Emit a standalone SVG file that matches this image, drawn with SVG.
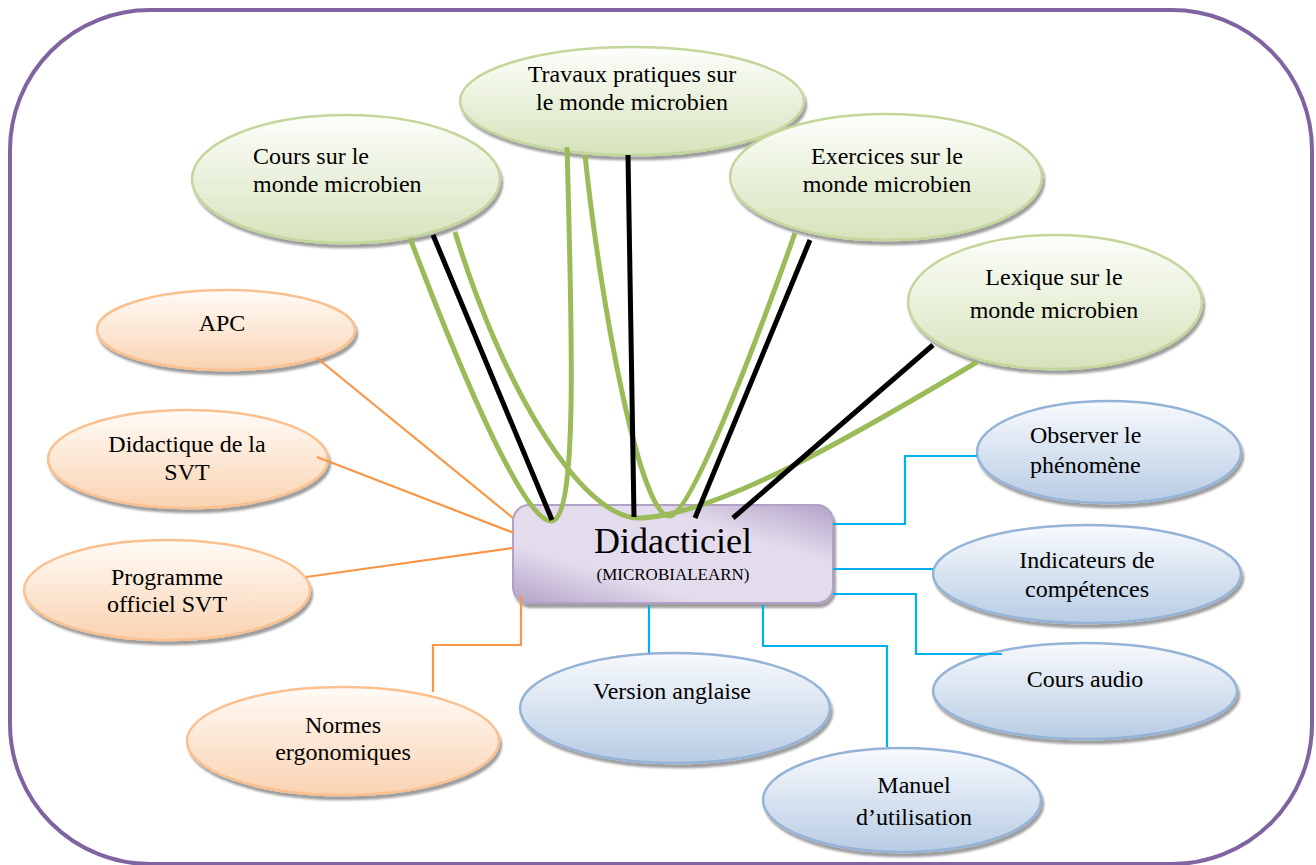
<svg xmlns="http://www.w3.org/2000/svg" width="1316" height="865" viewBox="0 0 1316 865">
  <defs>
    <linearGradient id="gGreen" x1="0" y1="0" x2="0" y2="1">
      <stop offset="0" stop-color="#fdfefb"/>
      <stop offset="1" stop-color="#d6e3bb"/>
    </linearGradient>
    <linearGradient id="gOrange" x1="0" y1="0" x2="0" y2="1">
      <stop offset="0" stop-color="#fffbf7"/>
      <stop offset="1" stop-color="#fad3b2"/>
    </linearGradient>
    <linearGradient id="gBlue" x1="0" y1="0" x2="0" y2="1">
      <stop offset="0" stop-color="#f8fafd"/>
      <stop offset="1" stop-color="#b8cce4"/>
    </linearGradient>
    <linearGradient id="gHub" x1="0" y1="1" x2="1" y2="0">
      <stop offset="0" stop-color="#b3a2c8"/>
      <stop offset="0.3" stop-color="#e3dcec"/>
      <stop offset="0.7" stop-color="#e3dcec"/>
      <stop offset="1" stop-color="#b3a2c8"/>
    </linearGradient>
    <filter id="shadow" x="-10%" y="-10%" width="120%" height="130%">
      <feDropShadow dx="2" dy="4" stdDeviation="1.2" flood-color="#000" flood-opacity="0.38"/>
    </filter>
  </defs>
  <style>
    .txt { font-family: "Liberation Serif", "Times New Roman", serif; font-size: 24px; fill: #000; }
    .mid { text-anchor: middle; }
    .green { fill: url(#gGreen); stroke: #c3d69b; stroke-width: 2.5; filter: url(#shadow); }
    .orange { fill: url(#gOrange); stroke: #fac08f; stroke-width: 2.5; filter: url(#shadow); }
    .blue { fill: url(#gBlue); stroke: #95b3d7; stroke-width: 2.5; filter: url(#shadow); }
    .lo { fill: none; stroke: #f79646; stroke-width: 2.2; }
    .lb { fill: none; stroke: #00b0f0; stroke-width: 2.2; }
    .lk { fill: none; stroke: #000; stroke-width: 5; }
    .lg { fill: none; stroke: #9bbb59; stroke-width: 5; }
  </style>

  <!-- outer frame -->
  <rect x="10" y="10" width="1302" height="854" rx="140" ry="140" fill="#fff" stroke="#8064a2" stroke-width="4"/>

  <!-- satellite nodes -->
  <g id="node-travaux">
    <ellipse class="green" cx="632" cy="101" rx="172" ry="54"/>
    <text class="txt mid" x="632" y="82">Travaux pratiques sur</text>
    <text class="txt mid" x="632" y="110">le monde microbien</text>
  </g>
  <g id="node-cours">
    <ellipse class="green" cx="346" cy="179" rx="154" ry="64"/>
    <text class="txt" x="253" y="164">Cours sur le</text>
    <text class="txt" x="253" y="192">monde microbien</text>
  </g>
  <g id="node-exercices">
    <ellipse class="green" cx="886" cy="177" rx="156" ry="63"/>
    <text class="txt mid" x="887" y="164">Exercices sur le</text>
    <text class="txt mid" x="887" y="192">monde microbien</text>
  </g>
  <g id="node-lexique">
    <ellipse class="green" cx="1055" cy="302" rx="147" ry="67"/>
    <text class="txt mid" x="1054" y="285">Lexique sur le</text>
    <text class="txt mid" x="1054" y="318">monde microbien</text>
  </g>

  <g id="node-apc">
    <ellipse class="orange" cx="226" cy="330" rx="129" ry="40"/>
    <text class="txt mid" x="222" y="331">APC</text>
  </g>
  <g id="node-didactique">
    <ellipse class="orange" cx="188" cy="459" rx="140" ry="49"/>
    <text class="txt mid" x="187" y="452">Didactique de la</text>
    <text class="txt mid" x="187" y="480">SVT</text>
  </g>
  <g id="node-programme">
    <ellipse class="orange" cx="167" cy="590" rx="143" ry="50"/>
    <text class="txt mid" x="167" y="585">Programme</text>
    <text class="txt mid" x="167" y="612">officiel SVT</text>
  </g>
  <g id="node-normes">
    <ellipse class="orange" cx="343" cy="741" rx="156" ry="54"/>
    <text class="txt mid" x="343" y="733">Normes</text>
    <text class="txt mid" x="343" y="760">ergonomiques</text>
  </g>

  <g id="node-observer">
    <ellipse class="blue" cx="1109" cy="452" rx="132" ry="51"/>
    <text class="txt" x="1030" y="443">Observer le</text>
    <text class="txt" x="1030" y="473">phénomène</text>
  </g>
  <g id="node-indicateurs">
    <ellipse class="blue" cx="1087" cy="574" rx="154" ry="49"/>
    <text class="txt mid" x="1087" y="568">Indicateurs de</text>
    <text class="txt mid" x="1087" y="597">compétences</text>
  </g>
  <g id="node-audio">
    <ellipse class="blue" cx="1085" cy="691" rx="152" ry="48"/>
    <text class="txt mid" x="1085" y="687">Cours audio</text>
  </g>
  <g id="node-anglaise">
    <ellipse class="blue" cx="675" cy="708" rx="155" ry="55"/>
    <text class="txt mid" x="672" y="699">Version anglaise</text>
  </g>
  <g id="node-manuel">
    <ellipse class="blue" cx="902" cy="800" rx="139" ry="52"/>
    <text class="txt mid" x="914" y="793">Manuel</text>
    <text class="txt mid" x="914" y="825">d’utilisation</text>
  </g>

  <!-- hub -->
  <g id="node-didacticiel">
    <rect x="513" y="505" width="320" height="98" rx="16" ry="16" fill="url(#gHub)" stroke="#b2a1c7" stroke-width="2" filter="url(#shadow)"/>
    <text class="txt mid" x="673" y="553" style="font-size:36px">Didacticiel</text>
    <text class="txt mid" x="673" y="580" style="font-size:17px">(MICROBIALEARN)</text>
  </g>

  <!-- connectors -->
  <g id="connectors">
    <line class="lo" x1="317" y1="358" x2="513" y2="518"/>
    <line class="lo" x1="317" y1="457" x2="514" y2="533"/>
    <line class="lo" x1="306" y1="577" x2="513" y2="548"/>
    <polyline class="lo" points="521,595 521,645 433,645 433,692"/>

    <polyline class="lb" points="833,524 905,524 905,456 977,456"/>
    <line class="lb" x1="833" y1="569" x2="933" y2="569"/>
    <polyline class="lb" points="833,594 916,594 916,654 1002,654"/>
    <line class="lb" x1="649" y1="605" x2="649" y2="653"/>
    <polyline class="lb" points="763,605 763,646 887,646 887,747"/>

    <path class="lg" d="M410,238 C460,370 525,525 552,521 C578,517 572,330 567,147"/>
    <path class="lg" d="M455,232 C500,380 580,520 640,518 C720,516 880,420 977,362"/>
    <path class="lg" d="M585,155 C600,300 640,520 670,516 C690,514 750,360 795,233"/>

    <line class="lk" x1="433" y1="235" x2="552" y2="520"/>
    <line class="lk" x1="628" y1="155" x2="634" y2="517"/>
    <line class="lk" x1="810" y1="240" x2="695" y2="518"/>
    <line class="lk" x1="933" y1="345" x2="733" y2="518"/>
  </g>
</svg>
